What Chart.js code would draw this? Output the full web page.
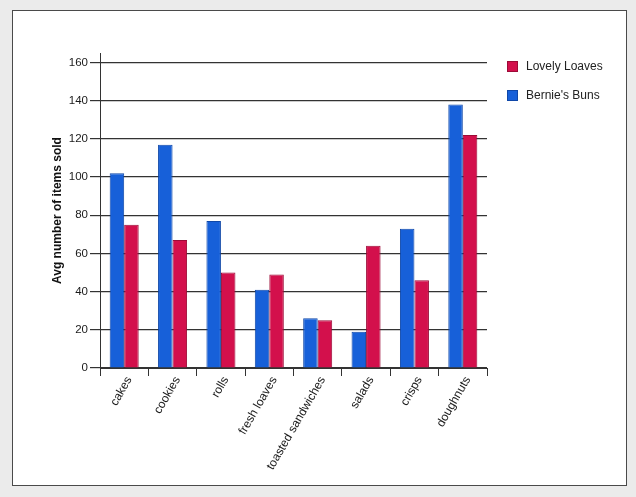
<!DOCTYPE html>
<html>
<head>
<meta charset="utf-8">
<script src="https://cdn.jsdelivr.net/npm/chart.js@4"></script>
<style>
  body { margin: 0; background: #ebebeb; font-family: "Liberation Sans", Arial, sans-serif; }
  #wrap { position: relative; width: 636px; height: 497px; }
  #frame { position: absolute; left: 12px; top: 10px; width: 615px; height: 476px; box-sizing: border-box;
           background: #fff; border: 1.5px solid #4a4a4a; }
  #chartBox { position: absolute; left: 0; top: 0; width: 636px; height: 497px; }
  #legend { position: absolute; left: 507px; top: 59px; font-size: 12px; color: #222; }
  .item { display: flex; align-items: center; height: 14px; margin-bottom: 15px; }
  .swatch { width: 11px; height: 11px; margin-right: 8px; box-sizing: border-box; }
</style>
</head>
<body>
<div id="wrap">
  <div id="frame"></div>
  <div id="chartBox"><canvas id="chart"></canvas></div>
  <div id="legend"></div>
</div>
<script>
// Data
const categories = ['cakes', 'cookies', 'rolls', 'fresh loaves', 'toasted sandwiches', 'salads', 'crisps', 'doughnuts'];
const berniesBuns = [102, 117, 77, 41, 26, 19, 73, 138];
const lovelyLoaves = [75, 67, 50, 49, 25, 64, 46, 122];
const yTicks = [0, 20, 40, 60, 80, 100, 120, 140, 160];

const BLUE = '#1760d9';
const RED = '#d3104c';
const FONT = '"Liberation Sans", Arial, sans-serif';

const datasets = [
    { label: "Bernie's Buns", data: berniesBuns, backgroundColor: BLUE, borderColor: '#0f47a8', borderWidth: 1 },
    { label: 'Lovely Loaves', data: lovelyLoaves, backgroundColor: RED, borderColor: '#9c0b37', borderWidth: 1 }
];

// Legend (Lovely Loaves listed first, as in the original)
const legend = document.getElementById('legend');
[datasets[1], datasets[0]].forEach(ds => {
    legend.innerHTML += `<div class="item"><span class="swatch" style="background:${ds.backgroundColor};border:1px solid ${ds.borderColor}"></span>${ds.label}</div>`;
});

new Chart(document.getElementById('chart'), {
    type: 'bar',
    data: { labels: categories, datasets: datasets },
    options: {
        responsive: true,
        maintainAspectRatio: false,
        animation: false,
        layout: { padding: { left: 46, top: 53, right: 149, bottom: 0 } },
        plugins: { legend: { display: false }, tooltip: { enabled: false } },
        datasets: { bar: { categoryPercentage: 0.6, barPercentage: 1.0 } },
        scales: {
            x: {
                afterFit: (scale) => { scale.height = 129; },
                grid: { display: true, drawOnChartArea: false, drawTicks: true, tickLength: 8, offset: true, color: '#333', lineWidth: 1 },
                border: { display: true, color: '#333', width: 1 },
                ticks: {
                    autoSkip: false, minRotation: 60, maxRotation: 60, padding: -2, labelOffset: 5,
                    color: '#1a1a1a', font: { family: FONT, size: 12 }
                }
            },
            y: {
                min: 0,
                max: 165,
                afterFit: (scale) => { scale.width = 54; },
                afterBuildTicks: (scale) => { scale.ticks = yTicks.map(v => ({ value: v })); },
                grid: { color: '#333', lineWidth: 1.2, drawTicks: true, tickLength: 10 },
                border: { display: true, color: '#333', width: 1 },
                ticks: { padding: 2, color: '#1a1a1a', font: { family: FONT, size: 11.5 } },
                title: {
                    display: true, text: 'Avg number of items sold',
                    color: '#111', font: { family: FONT, size: 12, weight: 'bold' }, padding: { top: 4, bottom: 0 }
                }
            }
        }
    }
});
</script>
</body>
</html>
